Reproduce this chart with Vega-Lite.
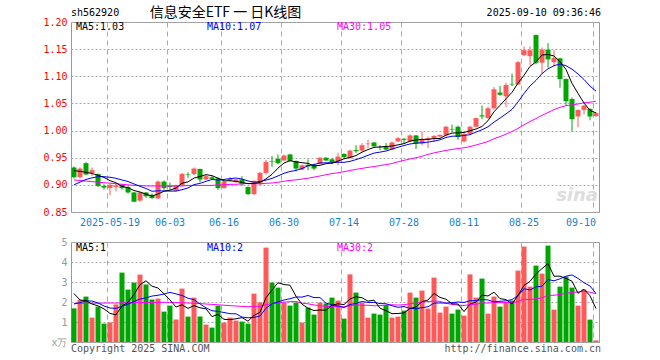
{
"$schema": "https://vega.github.io/schema/vega-lite/v6.json",
"background": "white",
"padding": {"left": 42, "top": 5, "right": 0, "bottom": 0},
"spacing": 8,
"config": {
 "view": {"stroke": "#999", "strokeWidth": 1},
 "font": "DejaVu Sans Mono",
 "text": {"font": "DejaVu Sans Mono", "fontSize": 10},
 "axis": {"labelFont": "DejaVu Sans Mono", "labelFontSize": 10, "title": null, "labelOverlap": false, "labelBound": false}
},
"data": {"values": [
{"d":"2025-05-09","o":0.932,"h":0.934,"l":0.912,"c":0.914,"v":1.68,"m5":0.926,"m10":0.900,"m30":0.909,"v5":2.42,"v10":1.90,"v30":1.93},
{"d":"2025-05-12","o":0.914,"h":0.932,"l":0.912,"c":0.930,"v":2.10,"m5":0.925,"m10":0.905,"m30":0.908,"v5":2.10,"v10":1.97,"v30":1.93},
{"d":"2025-05-13","o":0.940,"h":0.942,"l":0.918,"c":0.919,"v":2.27,"m5":0.923,"m10":0.910,"m30":0.907,"v5":2.07,"v10":2.05,"v30":1.94},
{"d":"2025-05-14","o":0.922,"h":0.932,"l":0.916,"c":0.927,"v":1.22,"m5":0.921,"m10":0.913,"m30":0.906,"v5":1.90,"v10":2.05,"v30":1.94},
{"d":"2025-05-15","o":0.920,"h":0.921,"l":0.896,"c":0.898,"v":1.77,"m5":0.9176,"m10":0.915,"m30":0.905,"v5":1.808,"v10":1.95,"v30":1.94},
{"d":"2025-05-16","o":0.898,"h":0.901,"l":0.891,"c":0.895,"v":0.92,"m5":0.9138,"m10":0.915,"m30":0.904,"v5":1.656,"v10":1.80,"v30":1.95},
{"d":"2025-05-19","o":0.894,"h":0.902,"l":0.881,"c":0.900,"v":0.98,"m5":0.9078,"m10":0.914,"m30":0.903,"v5":1.432,"v10":1.70,"v30":1.95},
{"d":"2025-05-20","o":0.896,"h":0.903,"l":0.888,"c":0.899,"v":1.88,"m5":0.9038,"m10":0.912,"m30":0.902,"v5":1.354,"v10":1.68,"v30":1.95},
{"d":"2025-05-21","o":0.900,"h":0.902,"l":0.891,"c":0.894,"v":3.47,"m5":0.8972,"m10":0.909,"m30":0.901,"v5":1.804,"v10":1.78,"v30":1.96},
{"d":"2025-05-22","o":0.896,"h":0.898,"l":0.884,"c":0.886,"v":2.62,"m5":0.8948,"m10":0.9062,"m30":0.900,"v5":1.974,"v10":1.891,"v30":1.96},
{"d":"2025-05-23","o":0.886,"h":0.887,"l":0.868,"c":0.869,"v":2.97,"m5":0.8896,"m10":0.9017,"m30":0.899,"v5":2.384,"v10":2.020,"v30":1.97},
{"d":"2025-05-26","o":0.871,"h":0.887,"l":0.869,"c":0.886,"v":3.37,"m5":0.8868,"m10":0.8973,"m30":0.899,"v5":2.862,"v10":2.147,"v30":1.97},
{"d":"2025-05-27","o":0.886,"h":0.887,"l":0.876,"c":0.879,"v":2.87,"m5":0.8828,"m10":0.8933,"m30":0.898,"v5":3.060,"v10":2.207,"v30":1.98},
{"d":"2025-05-28","o":0.882,"h":0.884,"l":0.874,"c":0.876,"v":2.12,"m5":0.8792,"m10":0.8882,"m30":0.898,"v5":2.790,"v10":2.297,"v30":1.98},
{"d":"2025-05-29","o":0.875,"h":0.908,"l":0.874,"c":0.906,"v":2.17,"m5":0.8832,"m10":0.8890,"m30":0.898,"v5":2.700,"v10":2.337,"v30":1.98},
{"d":"2025-05-30","o":0.906,"h":0.908,"l":0.891,"c":0.894,"v":1.52,"m5":0.8882,"m10":0.8889,"m30":0.898,"v5":2.410,"v10":2.397,"v30":1.98},
{"d":"2025-06-03","o":0.898,"h":0.904,"l":0.891,"c":0.896,"v":1.82,"m5":0.8902,"m10":0.8885,"m30":0.898,"v5":2.100,"v10":2.481,"v30":1.98},
{"d":"2025-06-04","o":0.889,"h":0.900,"l":0.888,"c":0.899,"v":1.12,"m5":0.8942,"m10":0.8885,"m30":0.898,"v5":1.750,"v10":2.405,"v30":1.97},
{"d":"2025-06-05","o":0.899,"h":0.922,"l":0.897,"c":0.920,"v":2.67,"m5":0.9030,"m10":0.8911,"m30":0.898,"v5":1.860,"v10":2.325,"v30":1.96},
{"d":"2025-06-06","o":0.919,"h":0.923,"l":0.913,"c":0.918,"v":1.27,"m5":0.9054,"m10":0.8943,"m30":0.899,"v5":1.680,"v10":2.190,"v30":1.95},
{"d":"2025-06-09","o":0.920,"h":0.932,"l":0.918,"c":0.930,"v":2.22,"m5":0.9126,"m10":0.9004,"m30":0.899,"v5":1.820,"v10":2.115,"v30":1.94},
{"d":"2025-06-10","o":0.929,"h":0.930,"l":0.905,"c":0.910,"v":1.27,"m5":0.9154,"m10":0.9028,"m30":0.899,"v5":1.710,"v10":1.905,"v30":1.92},
{"d":"2025-06-11","o":0.910,"h":0.918,"l":0.909,"c":0.916,"v":0.87,"m5":0.9188,"m10":0.9065,"m30":0.899,"v5":1.660,"v10":1.705,"v30":1.90},
{"d":"2025-06-12","o":0.914,"h":0.916,"l":0.909,"c":0.911,"v":0.72,"m5":0.9170,"m10":0.9100,"m30":0.899,"v5":1.270,"v10":1.565,"v30":1.88},
{"d":"2025-06-13","o":0.912,"h":0.914,"l":0.891,"c":0.894,"v":1.82,"m5":0.9122,"m10":0.9088,"m30":0.900,"v5":1.380,"v10":1.530,"v30":1.86},
{"d":"2025-06-16","o":0.894,"h":0.908,"l":0.893,"c":0.906,"v":0.97,"m5":0.9074,"m10":0.9100,"m30":0.900,"v5":1.130,"v10":1.475,"v30":1.84},
{"d":"2025-06-17","o":0.908,"h":0.914,"l":0.906,"c":0.911,"v":1.22,"m5":0.9076,"m10":0.9115,"m30":0.901,"v5":1.120,"v10":1.415,"v30":1.82},
{"d":"2025-06-18","o":0.905,"h":0.911,"l":0.904,"c":0.910,"v":1.07,"m5":0.9064,"m10":0.9126,"m30":0.901,"v5":1.160,"v10":1.410,"v30":1.80},
{"d":"2025-06-19","o":0.910,"h":0.916,"l":0.898,"c":0.901,"v":1.02,"m5":0.9044,"m10":0.9107,"m30":0.902,"v5":1.220,"v10":1.245,"v30":1.78},
{"d":"2025-06-20","o":0.896,"h":0.897,"l":0.881,"c":0.883,"v":0.92,"m5":0.9022,"m10":0.9072,"m30":0.9026,"v5":1.040,"v10":1.210,"v30":1.764},
{"d":"2025-06-23","o":0.883,"h":0.909,"l":0.881,"c":0.907,"v":2.42,"m5":0.9024,"m10":0.9049,"m30":0.9023,"v5":1.330,"v10":1.230,"v30":1.788},
{"d":"2025-06-24","o":0.901,"h":0.924,"l":0.899,"c":0.922,"v":1.98,"m5":0.9046,"m10":0.9061,"m30":0.9021,"v5":1.482,"v10":1.301,"v30":1.784},
{"d":"2025-06-25","o":0.922,"h":0.946,"l":0.919,"c":0.942,"v":4.72,"m5":0.9110,"m10":0.9087,"m30":0.9028,"v5":2.212,"v10":1.686,"v30":1.866},
{"d":"2025-06-26","o":0.944,"h":0.953,"l":0.933,"c":0.943,"v":2.97,"m5":0.9194,"m10":0.9119,"m30":0.9034,"v5":2.602,"v10":1.911,"v30":1.924},
{"d":"2025-06-27","o":0.948,"h":0.956,"l":0.938,"c":0.940,"v":2.72,"m5":0.9308,"m10":0.9165,"m30":0.9048,"v5":2.962,"v10":2.001,"v30":1.956},
{"d":"2025-06-30","o":0.945,"h":0.956,"l":0.944,"c":0.954,"v":1.97,"m5":0.9402,"m10":0.9213,"m30":0.9067,"v5":2.872,"v10":2.101,"v30":1.991},
{"d":"2025-07-01","o":0.956,"h":0.957,"l":0.943,"c":0.944,"v":1.82,"m5":0.9446,"m10":0.9246,"m30":0.9082,"v5":2.840,"v10":2.161,"v30":2.019},
{"d":"2025-07-02","o":0.944,"h":0.945,"l":0.925,"c":0.930,"v":1.97,"m5":0.9422,"m10":0.9266,"m30":0.9092,"v5":2.290,"v10":2.251,"v30":2.022},
{"d":"2025-07-03","o":0.928,"h":0.937,"l":0.927,"c":0.936,"v":0.97,"m5":0.9408,"m10":0.9301,"m30":0.9106,"v5":1.890,"v10":2.246,"v30":1.939},
{"d":"2025-07-04","o":0.937,"h":0.947,"l":0.927,"c":0.934,"v":1.72,"m5":0.9396,"m10":0.9352,"m30":0.9122,"v5":1.690,"v10":2.326,"v30":1.909},
{"d":"2025-07-07","o":0.937,"h":0.939,"l":0.927,"c":0.930,"v":1.37,"m5":0.9348,"m10":0.9375,"m30":0.9143,"v5":1.570,"v10":2.221,"v30":1.855},
{"d":"2025-07-08","o":0.939,"h":0.951,"l":0.938,"c":0.950,"v":1.97,"m5":0.9360,"m10":0.9403,"m30":0.9164,"v5":1.600,"v10":2.220,"v30":1.809},
{"d":"2025-07-09","o":0.950,"h":0.951,"l":0.944,"c":0.945,"v":1.92,"m5":0.9390,"m10":0.9406,"m30":0.9186,"v5":1.590,"v10":1.940,"v30":1.777},
{"d":"2025-07-10","o":0.947,"h":0.950,"l":0.938,"c":0.942,"v":2.22,"m5":0.9402,"m10":0.9405,"m30":0.9208,"v5":1.840,"v10":1.865,"v30":1.780},
{"d":"2025-07-11","o":0.943,"h":0.959,"l":0.936,"c":0.952,"v":2.07,"m5":0.9438,"m10":0.9417,"m30":0.9223,"v5":1.910,"v10":1.800,"v30":1.777},
{"d":"2025-07-14","o":0.957,"h":0.958,"l":0.949,"c":0.951,"v":1.17,"m5":0.9480,"m10":0.9414,"m30":0.9242,"v5":1.870,"v10":1.720,"v30":1.765},
{"d":"2025-07-15","o":0.950,"h":0.965,"l":0.948,"c":0.963,"v":3.38,"m5":0.9506,"m10":0.9433,"m30":0.9265,"v5":2.152,"v10":1.876,"v30":1.817},
{"d":"2025-07-16","o":0.964,"h":0.973,"l":0.959,"c":0.962,"v":2.47,"m5":0.9540,"m10":0.9465,"m30":0.9286,"v5":2.262,"v10":1.926,"v30":1.862},
{"d":"2025-07-17","o":0.963,"h":0.977,"l":0.961,"c":0.973,"v":1.97,"m5":0.9602,"m10":0.9502,"m30":0.9303,"v5":2.212,"v10":2.026,"v30":1.839},
{"d":"2025-07-18","o":0.975,"h":0.983,"l":0.968,"c":0.976,"v":1.22,"m5":0.9650,"m10":0.9544,"m30":0.9323,"v5":2.042,"v10":1.976,"v30":1.837},
{"d":"2025-07-21","o":0.978,"h":0.979,"l":0.970,"c":0.971,"v":1.42,"m5":0.9690,"m10":0.9585,"m30":0.9336,"v5":2.092,"v10":1.981,"v30":1.811},
{"d":"2025-07-22","o":0.969,"h":0.973,"l":0.964,"c":0.968,"v":1.37,"m5":0.9700,"m10":0.9603,"m30":0.9356,"v5":1.690,"v10":1.921,"v30":1.814},
{"d":"2025-07-23","o":0.971,"h":0.977,"l":0.964,"c":0.965,"v":1.85,"m5":0.9706,"m10":0.9623,"m30":0.9372,"v5":1.566,"v10":1.914,"v30":1.847},
{"d":"2025-07-24","o":0.965,"h":0.980,"l":0.964,"c":0.978,"v":1.22,"m5":0.9716,"m10":0.9659,"m30":0.9394,"v5":1.416,"v10":1.814,"v30":1.863},
{"d":"2025-07-25","o":0.980,"h":0.988,"l":0.979,"c":0.986,"v":1.27,"m5":0.9736,"m10":0.9693,"m30":0.9425,"v5":1.426,"v10":1.734,"v30":1.845},
{"d":"2025-07-28","o":0.985,"h":0.986,"l":0.976,"c":0.983,"v":1.57,"m5":0.9760,"m10":0.9725,"m30":0.9451,"v5":1.456,"v10":1.774,"v30":1.865},
{"d":"2025-07-29","o":0.980,"h":0.993,"l":0.979,"c":0.991,"v":2.47,"m5":0.9806,"m10":0.9753,"m30":0.9477,"v5":1.676,"v10":1.683,"v30":1.907},
{"d":"2025-07-30","o":0.991,"h":0.992,"l":0.966,"c":0.976,"v":2.22,"m5":0.9828,"m10":0.9767,"m30":0.9499,"v5":1.750,"v10":1.658,"v30":1.945},
{"d":"2025-07-31","o":0.976,"h":0.998,"l":0.973,"c":0.983,"v":2.57,"m5":0.9838,"m10":0.9777,"m30":0.9527,"v5":2.020,"v10":1.718,"v30":1.997},
{"d":"2025-08-01","o":0.983,"h":0.989,"l":0.968,"c":0.986,"v":1.67,"m5":0.9838,"m10":0.9787,"m30":0.9561,"v5":2.100,"v10":1.763,"v30":2.022},
{"d":"2025-08-04","o":0.986,"h":0.992,"l":0.979,"c":0.990,"v":3.22,"m5":0.9852,"m10":0.9806,"m30":0.9589,"v5":2.430,"v10":1.943,"v30":2.048},
{"d":"2025-08-05","o":0.989,"h":0.993,"l":0.987,"c":0.992,"v":1.47,"m5":0.9854,"m10":0.9830,"m30":0.9612,"v5":2.230,"v10":1.953,"v30":2.031},
{"d":"2025-08-06","o":0.991,"h":1.009,"l":0.989,"c":1.007,"v":1.77,"m5":0.9916,"m10":0.9872,"m30":0.9634,"v5":2.140,"v10":1.945,"v30":1.933},
{"d":"2025-08-07","o":1.003,"h":1.011,"l":0.997,"c":1.002,"v":1.42,"m5":0.9954,"m10":0.9896,"m30":0.9653,"v5":1.910,"v10":1.965,"v30":1.881},
{"d":"2025-08-08","o":1.007,"h":1.009,"l":0.983,"c":0.988,"v":1.62,"m5":0.9958,"m10":0.9898,"m30":0.9669,"v5":1.900,"v10":2.000,"v30":1.845},
{"d":"2025-08-11","o":0.980,"h":0.997,"l":0.978,"c":0.994,"v":1.32,"m5":0.9966,"m10":0.9909,"m30":0.9683,"v5":1.520,"v10":1.975,"v30":1.823},
{"d":"2025-08-12","o":0.994,"h":1.009,"l":0.993,"c":1.007,"v":3.38,"m5":0.9996,"m10":0.9925,"m30":0.9704,"v5":1.902,"v10":2.066,"v30":1.875},
{"d":"2025-08-13","o":1.007,"h":1.024,"l":1.006,"c":1.023,"v":2.22,"m5":1.0028,"m10":0.9972,"m30":0.9735,"v5":1.992,"v10":2.066,"v30":1.883},
{"d":"2025-08-14","o":1.028,"h":1.046,"l":1.021,"c":1.026,"v":3.17,"m5":1.0076,"m10":1.0015,"m30":0.9765,"v5":2.342,"v10":2.126,"v30":1.957},
{"d":"2025-08-15","o":1.023,"h":1.044,"l":1.022,"c":1.041,"v":1.42,"m5":1.0182,"m10":1.0070,"m30":0.9800,"v5":2.302,"v10":2.101,"v30":1.947},
{"d":"2025-08-18","o":1.041,"h":1.080,"l":1.039,"c":1.076,"v":2.27,"m5":1.0346,"m10":1.0156,"m30":0.9849,"v5":2.492,"v10":2.006,"v30":1.977},
{"d":"2025-08-19","o":1.070,"h":1.082,"l":1.064,"c":1.066,"v":1.77,"m5":1.0464,"m10":1.0230,"m30":0.9888,"v5":2.170,"v10":2.036,"v30":1.970},
{"d":"2025-08-20","o":1.063,"h":1.088,"l":1.043,"c":1.084,"v":1.97,"m5":1.0586,"m10":1.0307,"m30":0.9934,"v5":2.120,"v10":2.056,"v30":1.972},
{"d":"2025-08-21","o":1.086,"h":1.105,"l":1.082,"c":1.085,"v":2.07,"m5":1.0704,"m10":1.0390,"m30":0.9982,"v5":1.900,"v10":2.121,"v30":1.967},
{"d":"2025-08-22","o":1.085,"h":1.128,"l":1.084,"c":1.126,"v":3.57,"m5":1.0874,"m10":1.0528,"m30":1.0040,"v5":2.330,"v10":2.316,"v30":2.017},
{"d":"2025-08-25","o":1.139,"h":1.155,"l":1.137,"c":1.148,"v":4.77,"m5":1.1018,"m10":1.0682,"m30":1.0105,"v5":2.830,"v10":2.661,"v30":2.137},
{"d":"2025-08-26","o":1.137,"h":1.155,"l":1.121,"c":1.148,"v":2.77,"m5":1.1182,"m10":1.0823,"m30":1.0167,"v5":3.030,"v10":2.600,"v30":2.116},
{"d":"2025-08-27","o":1.176,"h":1.177,"l":1.122,"c":1.125,"v":3.82,"m5":1.1264,"m10":1.0925,"m30":1.0221,"v5":3.400,"v10":2.760,"v30":2.161},
{"d":"2025-08-28","o":1.125,"h":1.153,"l":1.104,"c":1.149,"v":3.42,"m5":1.1392,"m10":1.1048,"m30":1.0280,"v5":3.670,"v10":2.785,"v30":2.210},
{"d":"2025-08-29","o":1.149,"h":1.161,"l":1.116,"c":1.131,"v":4.82,"m5":1.1402,"m10":1.1138,"m30":1.0332,"v5":3.920,"v10":3.125,"v30":2.330},
{"d":"2025-09-01","o":1.126,"h":1.148,"l":1.118,"c":1.134,"v":1.62,"m5":1.1374,"m10":1.1196,"m30":1.0386,"v5":3.290,"v10":3.060,"v30":2.336},
{"d":"2025-09-02","o":1.133,"h":1.134,"l":1.079,"c":1.095,"v":2.77,"m5":1.1268,"m10":1.1225,"m30":1.0428,"v5":3.290,"v10":3.160,"v30":2.383},
{"d":"2025-09-03","o":1.095,"h":1.096,"l":1.046,"c":1.054,"v":3.27,"m5":1.1126,"m10":1.1195,"m30":1.0458,"v5":3.180,"v10":3.290,"v30":2.430},
{"d":"2025-09-04","o":1.058,"h":1.061,"l":0.999,"c":1.021,"v":2.72,"m5":1.0870,"m10":1.1131,"m30":1.0472,"v5":3.040,"v10":3.355,"v30":2.480},
{"d":"2025-09-05","o":1.026,"h":1.039,"l":1.006,"c":1.038,"v":1.82,"m5":1.0684,"m10":1.1043,"m30":1.0490,"v5":2.440,"v10":3.180,"v30":2.499},
{"d":"2025-09-08","o":1.038,"h":1.047,"l":1.030,"c":1.046,"v":2.62,"m5":1.0508,"m10":1.0941,"m30":1.0511,"v5":2.640,"v10":2.965,"v30":2.534},
{"d":"2025-09-09","o":1.040,"h":1.041,"l":1.019,"c":1.026,"v":1.12,"m5":1.0370,"m10":1.0819,"m30":1.0522,"v5":2.310,"v10":2.800,"v30":2.489},
{"d":"2025-09-10","o":1.027,"h":1.034,"l":1.025,"c":1.032,"v":0.08,"m5":1.0326,"m10":1.0726,"m30":1.0541,"v5":1.672,"v10":2.426,"v30":2.417}
]},
"vconcat": [
{
 "width": 528, "height": 190,
 "encoding": {"x": {"field": "d", "type": "ordinal",
   "scale": {"paddingInner": 0.1667, "paddingOuter": 0.0833},
   "axis": {"values": ["2025-05-19","2025-06-03","2025-06-16","2025-06-30","2025-07-14","2025-07-28","2025-08-11","2025-08-25","2025-09-10"],
     "bandPosition": 0, "labelAngle": 0, "labelOverlap": false, "labelBound": false, "labelFlush": false,
     "labelExpr": "datum.value == '2025-05-19' ? datum.value : substring(datum.value, 5)",
     "labelAlign": {"condition": {"test": "datum.value == '2025-09-10'", "value": "right"}, "value": "center"},
     "labelColor": "#1a7fd4", "labelPadding": 5, "ticks": false, "domain": false,
     "grid": true, "gridColor": "#aaa", "gridDash": [5, 4], "minExtent": 15, "maxExtent": 15, "title": null}}},
 "layer": [
  {"mark": {"type": "rule", "strokeWidth": 1},
   "encoding": {
    "y": {"field": "l", "type": "quantitative", "scale": {"domain": [0.85, 1.2], "zero": false, "nice": false},
      "axis": {"values": [0.85, 0.9, 0.95, 1.0, 1.05, 1.1, 1.15, 1.2], "tickCount": 20, "format": ".2f", "labelColor": "#ff0000",
        "labelOverlap": false, "labelBound": false,
        "ticks": false, "domain": false, "labelPadding": 4, "gridColor": "#aaa", "gridDash": [2, 2],
        "minExtent": 28, "maxExtent": 28, "title": null}},
    "y2": {"field": "h"},
    "color": {"condition": {"test": "datum.c >= datum.o", "value": "#ff5a5a"}, "value": "#00a600"}}},
  {"mark": {"type": "bar"},
   "encoding": {
    "y": {"field": "o", "type": "quantitative"},
    "y2": {"field": "c"},
    "color": {"condition": {"test": "datum.c >= datum.o", "value": "#ff5a5a"}, "value": "#00a600"}}},
  {"mark": {"type": "line", "strokeWidth": 1}, "encoding": {"y": {"field": "m30", "type": "quantitative"}, "color": {"value": "#ff00ff"}}},
  {"mark": {"type": "line", "strokeWidth": 1}, "encoding": {"y": {"field": "m10", "type": "quantitative"}, "color": {"value": "#0000ff"}}},
  {"mark": {"type": "line", "strokeWidth": 1}, "encoding": {"y": {"field": "m5", "type": "quantitative"}, "color": {"value": "#000000"}}},
  {"data": {"values": [{"t": "sina"}]},
   "mark": {"type": "text", "align": "right", "baseline": "middle", "font": "DejaVu Sans", "fontSize": 18, "fontStyle": "italic", "fontWeight": "bold", "color": "#dddddd", "dx": 2},
   "encoding": {"x": {"datum": "2025-09-10", "type": "ordinal"}, "y": {"datum": 0.879, "type": "quantitative"}, "text": {"field": "t"}}},
  {"data": {"values": [{"t": "MA5:1.03"}]},
   "mark": {"type": "text", "align": "left", "baseline": "middle", "color": "#000000", "dx": 2},
   "encoding": {"x": {"datum": "2025-05-09", "type": "ordinal"}, "y": {"datum": 1.19, "type": "quantitative"}, "text": {"field": "t"}}},
  {"data": {"values": [{"t": "MA10:1.07"}]},
   "mark": {"type": "text", "align": "left", "baseline": "middle", "color": "#0000ff", "dx": 1},
   "encoding": {"x": {"datum": "2025-06-11", "type": "ordinal"}, "y": {"datum": 1.19, "type": "quantitative"}, "text": {"field": "t"}}},
  {"data": {"values": [{"t": "MA30:1.05"}]},
   "mark": {"type": "text", "align": "left", "baseline": "middle", "color": "#ff00ff", "dx": -1},
   "encoding": {"x": {"datum": "2025-07-11", "type": "ordinal"}, "y": {"datum": 1.19, "type": "quantitative"}, "text": {"field": "t"}}},
  {"data": {"values": [{"t": "sh562920"}]},
   "mark": {"type": "text", "align": "left", "baseline": "middle", "color": "#000000", "dx": -3},
   "encoding": {"x": {"datum": "2025-05-09", "type": "ordinal"}, "y": {"datum": 1.217, "type": "quantitative"}, "text": {"field": "t"}}},
  {"data": {"values": [{"t": "信息安全ETF 一 日K线图"}]},
   "mark": {"type": "text", "align": "center", "baseline": "middle", "font": "Noto Sans CJK SC", "fontSize": 14, "color": "#000000", "dx": 1.5},
   "encoding": {"x": {"datum": "2025-06-16", "type": "ordinal"}, "y": {"datum": 1.217, "type": "quantitative"}, "text": {"field": "t"}}},
  {"data": {"values": [{"t": "2025-09-10 09:36:46"}]},
   "mark": {"type": "text", "align": "right", "baseline": "middle", "color": "#000000", "dx": 5},
   "encoding": {"x": {"datum": "2025-09-10", "type": "ordinal"}, "y": {"datum": 1.217, "type": "quantitative"}, "text": {"field": "t"}}}
 ]
},
{
 "width": 528, "height": 100,
 "encoding": {"x": {"field": "d", "type": "ordinal",
   "scale": {"paddingInner": 0.1667, "paddingOuter": 0.0833},
   "axis": {"values": ["2025-05-19","2025-06-03","2025-06-16","2025-06-30","2025-07-14","2025-07-28","2025-08-11","2025-08-25","2025-09-10"],
     "bandPosition": 0, "labels": false, "ticks": false, "domain": false,
     "grid": true, "gridColor": "#aaa", "gridDash": [5, 4], "title": null}}},
 "layer": [
  {"mark": {"type": "bar"},
   "encoding": {
    "y": {"field": "v", "type": "quantitative", "scale": {"domain": [0, 5], "nice": false},
      "axis": {"values": [0, 1, 2, 3, 4, 5], "tickCount": 20, "format": "d", "labelExpr": "datum.value == 0 ? 'x万' : datum.label",
        "labelOverlap": false, "labelBound": false,
        "labelColor": "#999", "ticks": false, "domain": false, "labelPadding": 4, "gridColor": "#aaa", "gridDash": [2, 2],
        "minExtent": 28, "maxExtent": 28, "title": null}},
    "color": {"condition": {"test": "datum.c >= datum.o", "value": "#ff5a5a"}, "value": "#00a600"}}},
  {"mark": {"type": "line", "strokeWidth": 1}, "encoding": {"y": {"field": "v30", "type": "quantitative"}, "color": {"value": "#ff00ff"}}},
  {"mark": {"type": "line", "strokeWidth": 1}, "encoding": {"y": {"field": "v10", "type": "quantitative"}, "color": {"value": "#0000ff"}}},
  {"mark": {"type": "line", "strokeWidth": 1}, "encoding": {"y": {"field": "v5", "type": "quantitative"}, "color": {"value": "#000000"}}},
  {"data": {"values": [{"t": "MA5:1"}]},
   "mark": {"type": "text", "align": "left", "baseline": "middle", "color": "#000000", "dx": 2},
   "encoding": {"x": {"datum": "2025-05-09", "type": "ordinal"}, "y": {"datum": 4.7, "type": "quantitative"}, "text": {"field": "t"}}},
  {"data": {"values": [{"t": "MA10:2"}]},
   "mark": {"type": "text", "align": "left", "baseline": "middle", "color": "#0000ff", "dx": 1},
   "encoding": {"x": {"datum": "2025-06-11", "type": "ordinal"}, "y": {"datum": 4.7, "type": "quantitative"}, "text": {"field": "t"}}},
  {"data": {"values": [{"t": "MA30:2"}]},
   "mark": {"type": "text", "align": "left", "baseline": "middle", "color": "#ff00ff", "dx": -1},
   "encoding": {"x": {"datum": "2025-07-11", "type": "ordinal"}, "y": {"datum": 4.7, "type": "quantitative"}, "text": {"field": "t"}}},
  {"data": {"values": [{"t": "Copyright 2025 SINA.COM"}]},
   "mark": {"type": "text", "align": "left", "baseline": "middle", "color": "#555555", "dx": -3},
   "encoding": {"x": {"datum": "2025-05-09", "type": "ordinal"}, "y": {"datum": -0.35, "type": "quantitative"}, "text": {"field": "t"}}},
  {"data": {"values": [{"t": "http://finance.sina.com.cn"}]},
   "mark": {"type": "text", "align": "right", "baseline": "middle", "color": "#555555", "dx": 5},
   "encoding": {"x": {"datum": "2025-09-10", "type": "ordinal"}, "y": {"datum": -0.35, "type": "quantitative"}, "text": {"field": "t"}}}
 ]
}
]
}
